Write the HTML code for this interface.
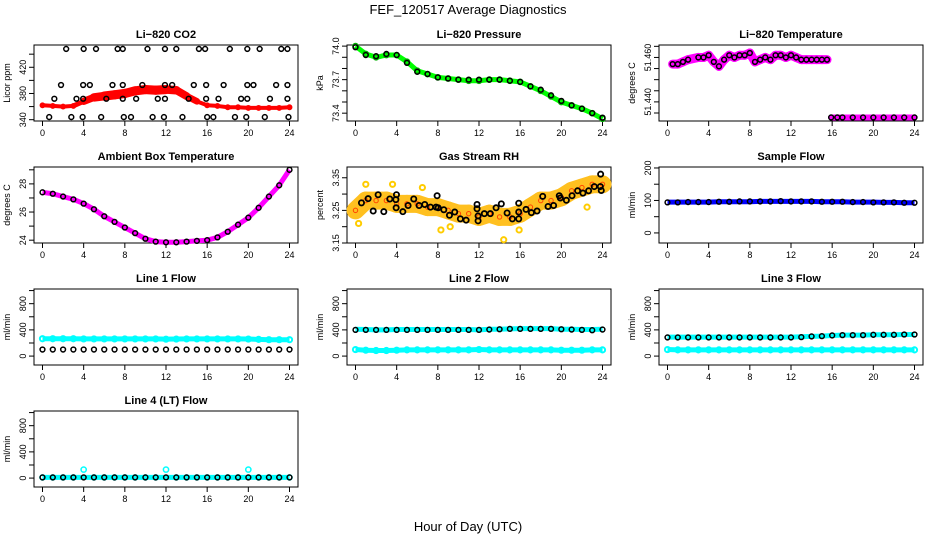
<!DOCTYPE html>
<html><head><meta charset="utf-8"><style>
body{margin:0;background:#fff;}
svg{display:block;font-family:"Liberation Sans",sans-serif;}
</style></head><body>
<svg id="c" width="936" height="540" viewBox="0 0 936 540">
<text x="468" y="14" text-anchor="middle" font-size="13">FEF_120517  Average Diagnostics</text>
<text x="468" y="531" text-anchor="middle" font-size="13">Hour of Day (UTC)</text>
</svg>
<script>
const hours=[0,1,2,3,4,5,6,7,8,9,10,11,12,13,14,15,16,17,18,19,20,21,22,23,24];
const xTicks=[0,4,8,12,16,20,24];
// CO2
const co2Red=[362,361,360,361,368,374,376,378,380,384,386,385,386,385,376,368,362,361,359,359,358,358,358,358,359];
const co2Spread=[3,3,3,5,10,12,14,14,14,14,14,14,14,12,12,8,3,3,2,2,2,2,2,2,2];
const co2BlkH=[2.3,4,5.2,7.3,7.8,10.2,11.9,13,15.2,15.8,18.2,19.9,21.1,23.2,23.8,1.8,3.95,4.6,6.8,7.8,9.7,11.9,12.6,14.7,15.9,17.6,19.9,20.5,22.7,23.8,1.15,3.3,3.95,6.2,7.8,9.1,11.2,11.9,14.2,15.9,17.1,19.3,19.9,22.1,23.8,0.65,2.8,3.9,5.7,7.9,8.6,10.7,11.8,13.6,16,16.6,18.7,19.8,21.6,23.9];
const co2BlkV=[448,448,448,448,448,448,448,448,448,448,448,448,448,448,448,393,393,393,393,393,393,393,393,393,393,393,393,393,393,393,372,372,372,372,372,372,372,372,372,372,372,372,372,372,372,344,344,344,344,344,344,344,344,344,344,344,344,344,344,344];
// Pressure
const presGreen=[74.00,73.93,73.90,73.92,73.92,73.86,73.78,73.75,73.72,73.71,73.70,73.69,73.69,73.70,73.70,73.69,73.68,73.64,73.60,73.55,73.50,73.47,73.44,73.40,73.35];
const presBlk=[73.99,73.92,73.91,73.93,73.92,73.85,73.77,73.75,73.72,73.71,73.70,73.70,73.70,73.70,73.70,73.69,73.68,73.64,73.61,73.56,73.51,73.47,73.44,73.40,73.36];
// Li-820 temperature
const tempH=[0.5,1,1.5,2,3,3.5,4,4.5,5,5.5,6,6.5,7,7.5,8,8.5,9,9.5,10,10.5,11,11.5,12,12.5,13,13.5,14,14.5,15,15.5,15.9,16.5,17,18,19,20,21,22,23,24];
const tempV=[51.457,51.457,51.458,51.459,51.460,51.460,51.461,51.458,51.456,51.459,51.461,51.460,51.461,51.461,51.462,51.458,51.459,51.460,51.459,51.461,51.461,51.460,51.461,51.460,51.459,51.459,51.459,51.459,51.459,51.459,51.433,51.433,51.433,51.433,51.433,51.433,51.433,51.433,51.433,51.433];
// Ambient
const ambV=[27.4,27.3,27.1,26.9,26.6,26.2,25.7,25.3,24.9,24.5,24.1,23.9,23.85,23.85,23.9,23.95,24.0,24.2,24.6,25.1,25.6,26.3,27.1,27.9,29.0];
// RH
const rhBand=[3.25,3.28,3.28,3.28,3.27,3.27,3.27,3.26,3.26,3.25,3.24,3.24,3.23,3.24,3.23,3.23,3.24,3.26,3.28,3.28,3.29,3.31,3.32,3.33,3.33];
const rhOutH=[0.3,1,3.6,6.5,8.3,9.2,14.4,15.9,22.5];
const rhOutV=[3.21,3.33,3.33,3.32,3.19,3.2,3.16,3.19,3.26];
const rhBlkH=[0.58,1.23,1.72,2.2,2.75,3.33,3.95,3.98,3.92,4.6,5.11,5.66,6.18,6.73,7.28,7.83,8.03,7.93,8.58,9.13,9.64,10.19,10.75,11.81,11.81,11.91,11.91,12.52,13.1,13.66,14.17,14.73,15.24,15.86,15.86,15.86,16.57,17.09,17.64,18.19,18.71,19.25,19.8,19.9,20.49,21.04,21.58,22.1,22.65,23.2,23.79,23.82,23.88];
const rhBlkV=[3.273,3.286,3.248,3.298,3.246,3.285,3.258,3.298,3.283,3.246,3.265,3.285,3.265,3.268,3.26,3.26,3.258,3.295,3.252,3.235,3.245,3.224,3.22,3.268,3.255,3.233,3.218,3.24,3.24,3.258,3.27,3.242,3.224,3.272,3.245,3.224,3.253,3.243,3.248,3.293,3.262,3.265,3.295,3.288,3.281,3.295,3.31,3.303,3.31,3.323,3.323,3.361,3.311];
// flows
const sampBlue=[95,95,95,95,95,96,96,96,96,97,97,97,97,97,97,96,96,96,95,95,95,94,94,93,93];
const sampBlk=[94,94,95,95,95,96,96,97,97,97,97,98,97,97,97,96,96,96,95,95,94,94,94,93,93];
const l1Cyan=[265,265,265,265,262,262,262,262,262,262,262,262,258,260,262,262,262,262,262,262,260,255,250,250,250];
const l1Blk=[100,100,100,100,100,100,100,100,100,100,100,100,100,100,100,100,100,100,100,100,100,100,100,100,100];
const l2Cyan=[410,405,400,400,405,405,405,405,405,405,405,405,400,410,410,415,420,420,420,420,410,410,405,405,410];
const l2Cyan2=[100,90,85,85,90,95,95,95,95,95,95,95,100,95,95,95,95,95,95,95,90,90,90,95,95];
const l2Blk=[400,400,400,400,400,400,400,400,400,400,400,400,400,405,410,415,415,415,415,415,410,405,400,395,405];
const l3Cyan=[290,290,290,290,290,290,290,290,290,290,290,290,290,295,300,305,315,320,320,320,325,325,325,330,330];
const l3Cyan2=[100,95,95,95,95,95,95,95,95,95,95,95,95,95,95,95,95,95,95,95,95,95,95,95,95];
const l3Blk=[285,285,285,285,285,285,285,285,285,285,285,285,285,290,300,305,315,320,320,320,325,325,325,330,330];
const l4Cyan=[10,10,10,10,130,10,10,10,10,10,10,10,130,10,10,10,10,10,10,10,130,10,10,10,10];
const l4Blk=[10,10,10,10,10,10,10,10,10,10,10,10,10,10,10,10,10,10,10,10,10,10,10,10,10];

const NS='http://www.w3.org/2000/svg';
const svg=document.getElementById('c');
function mk(tag,attrs,parent){const e=document.createElementNS(NS,tag);for(const k in attrs)e.setAttribute(k,attrs[k]);(parent||svg).appendChild(e);return e;}
const colL=[34,347,659], rowT=[45,167,289,411], W=264, Hh=76;
function panel(c,r,title,ylab,y0,y1,yt,ylbl,name){
  const g=mk('g',{});
  
  
  const L=colL[c],T=rowT[r];
  const xs=h=>L+8.5+h*(W-17)/24;
  const ys=v=>T+Hh-(v-y0)/(y1-y0)*Hh;
  const t=mk('text',{x:L+W/2,y:T-7,'text-anchor':'middle','font-size':'11','font-weight':'bold'},g);t.textContent=title;
  
  const b=mk('rect',{x:L,y:T,width:W,height:Hh,fill:'none',stroke:'#000','stroke-width':1},g);
  
  mk('line',{x1:xs(0),x2:xs(24),y1:T+Hh,y2:T+Hh,stroke:'#000'},g);
  xTicks.forEach(h=>{mk('line',{x1:xs(h),x2:xs(h),y1:T+Hh,y2:T+Hh+5,stroke:'#000'},g);
    const tx=mk('text',{x:xs(h),y:T+Hh+15,'text-anchor':'middle','font-size':'9'},g);tx.textContent=h;
    });
  mk('line',{x1:L,x2:L,y1:ys(yt[0]),y2:ys(yt[yt.length-1]),stroke:'#000'},g);
  yt.forEach((v,i)=>{mk('line',{x1:L,x2:L-5,y1:ys(v),y2:ys(v),stroke:'#000'},g);
    if(ylbl[i]!==''){const tx=mk('text',{x:L-8,y:ys(v),'text-anchor':'middle','font-size':'9',transform:`rotate(-90 ${L-8} ${ys(v)})`},g);tx.textContent=ylbl[i];
    }});
  const yl=mk('text',{x:L-24,y:T+Hh/2,'text-anchor':'middle','font-size':'9',transform:`rotate(-90 ${L-24} ${T+Hh/2})`},g);yl.textContent=ylab;
  
  return {g,xs,ys};
}
function band(p,hs,vs,col,widths,scale){
  const pts=hs.map((h,i)=>p.xs(h)+','+p.ys(vs[i]));
  if(widths){for(let i=0;i<hs.length-1;i++){const w=Math.max(4,(widths[i]+widths[i+1])/2*scale);
    const s=mk('line',{x1:p.xs(hs[i]),y1:p.ys(vs[i]),x2:p.xs(hs[i+1]),y2:p.ys(vs[i+1]),stroke:col,'stroke-width':w,'stroke-linecap':'round'},p.g);
    }}
  else{const pl=mk('polyline',{points:pts.join(' '),fill:'none',stroke:col,'stroke-width':5,'stroke-linejoin':'round','stroke-linecap':'butt'},p.g);
    }
}
function dots(p,hs,vs,col,r,sw){hs.forEach((h,i)=>{const d=mk('circle',{cx:p.xs(h),cy:p.ys(vs[i]),r:r||2.4,fill:'none',stroke:col,'stroke-width':sw||1.5},p.g);
  });}

let p;
p=panel(0,0,'Li\u2212820 CO2','Licor ppm',338,454,[340,360,380,400,420,440],['340','','380','','420',''],'panel-co2');
band(p,hours,co2Red,'#ff0000',co2Spread,76/116);dots(p,hours,co2Red,'#ff0000',2.2,1.5);dots(p,co2BlkH,co2BlkV,'#000');
p=panel(1,0,'Li\u2212820 Pressure','kPa',73.33,74.01,[73.4,73.5,73.6,73.7,73.8,73.9,74.0],['73.4','','','73.7','','','74.0'],'panel-pressure');
band(p,hours,presGreen,'#00ff00');dots(p,hours,presGreen,'#00b000',2.6,1.5);dots(p,hours,presBlk,'#000');
p=panel(2,0,'Li\u2212820 Temperature','degrees C',51.4314,51.4656,[51.435,51.440,51.445,51.450,51.455,51.460,51.465],['','51.440','','','','51.460',''],'panel-temperature');
band(p,tempH.slice(0,30),tempV.slice(0,30),'#ff00ff',tempV.slice(0,30).map(()=>9),1);band(p,tempH.slice(30),tempV.slice(30),'#ff00ff',tempV.slice(30).map(()=>6),1);dots(p,tempH,tempV,'#000');
p=panel(0,1,'Ambient Box Temperature','degrees C',23.8,29.2,[24,25,26,27,28,29],['24','','26','','28',''],'panel-ambient');
band(p,hours,ambV,'#ff00ff');dots(p,hours,ambV,'#000');
p=panel(1,1,'Gas Stream RH','percent',3.15,3.383,[3.15,3.20,3.25,3.30,3.35],['3.15','','3.25','','3.35'],'panel-rh');
band(p,hours,rhBand,'#ffc020',hours.map(()=>0.055),76/0.233);dots(p,hours,rhBand,'#ff4400',2.2,1);dots(p,rhOutH,rhOutV,'#ffcc00',2.6,2);dots(p,rhBlkH,rhBlkV,'#000',2.6,1.8);
p=panel(2,1,'Sample Flow','ml/min',-31,203,[0,50,100,150,200],['0','','100','','200'],'panel-sample-flow');
band(p,hours,sampBlue,'#0000ff');dots(p,hours,sampBlk,'#000');
const fT=[0,200,400,600,800,1000],fL=['0','','400','','800',''];
p=panel(0,2,'Line 1 Flow','ml/min',-136,1024,fT,fL,'panel-line1');
band(p,hours,l1Cyan,'#00ffff');dots(p,hours,l1Cyan,'#00ffff',2.6,2);dots(p,hours,l1Blk,'#000');
p=panel(1,2,'Line 2 Flow','ml/min',-136,1024,fT,fL,'panel-line2');
band(p,hours,l2Cyan,'#00ffff');band(p,hours,l2Cyan2,'#00ffff');dots(p,hours,l2Cyan2,'#00ffff',2.6,2);dots(p,hours,l2Blk,'#000');
p=panel(2,2,'Line 3 Flow','ml/min',-136,1024,fT,fL,'panel-line3');
band(p,hours,l3Cyan,'#00ffff');band(p,hours,l3Cyan2,'#00ffff');dots(p,hours,l3Cyan2,'#00ffff',2.6,2);dots(p,hours,l3Blk,'#000');
p=panel(0,3,'Line 4 (LT) Flow','ml/min',-136,1024,fT,fL,'panel-line4');
band(p,hours,l4Blk,'#00ffff');dots(p,hours,l4Cyan,'#00ffff',2.6,1.5);dots(p,hours,l4Blk,'#000');
</script>
</body></html>
